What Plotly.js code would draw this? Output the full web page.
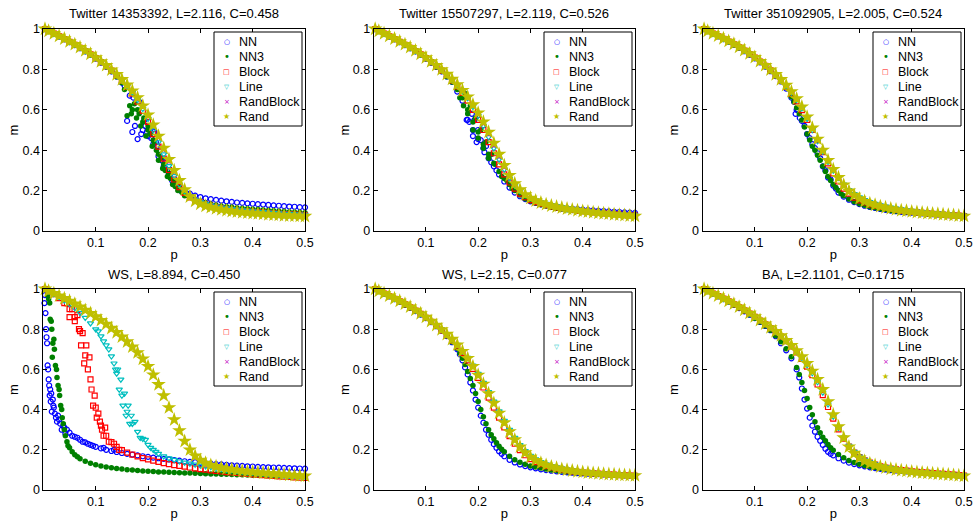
<!DOCTYPE html>
<html><head><meta charset="utf-8">
<script src="https://cdn.plot.ly/plotly-3.0.1.min.js"></script>
<style>html,body{margin:0;padding:0;background:#fff}#chart{width:976px;height:523px}</style>
</head><body><div id="chart"></div>
<script>
// ---------- shared axes / labels ----------
const P = [0.003,
 0.01,0.02,0.03,0.04,0.05,0.06,0.07,0.08,0.09,0.10,
 0.11,0.12,0.13,0.14,0.15,0.16,0.17,0.18,0.19,0.20,
 0.21,0.22,0.23,0.24,0.25,0.26,0.27,0.28,0.29,0.30,
 0.31,0.32,0.33,0.34,0.35,0.36,0.37,0.38,0.39,0.40,
 0.41,0.42,0.43,0.44,0.45,0.46,0.47,0.48,0.49,0.50];
const seriesNames = ['NN','NN3','Block','Line','RandBlock','Rand'];
const panelTitles = ['Twitter 14353392, L=2.116, C=0.458','Twitter 15507297, L=2.119, C=0.526','Twitter 351092905, L=2.005, C=0.524',
                     'WS, L=8.894, C=0.450','WS, L=2.15, C=0.077','BA, L=2.1101, C=0.1715'];
const xTickVals = [0.1,0.2,0.3,0.4,0.5];
const xTickText = ['0.1','0.2','0.3','0.4','0.5'];
const yTickVals = [0,0.2,0.4,0.6,0.8,1];
const yTickText = ['0','0.2','0.4','0.6','0.8','1'];
const xLabel = 'p', yLabel = 'm';

// ---------- Panel 1: Twitter 14353392 ----------
const t1_NN = [1.0, 0.99,0.977,0.963,0.95,0.935,0.92,0.905,0.889,0.872,0.854, 0.834,0.814,0.79,0.765,0.735,0.545,0.49,0.455,0.5,0.47, 0.43,0.37,0.32,0.28,0.235,0.21,0.195,0.185,0.175,0.168, 0.162,0.158,0.154,0.15,0.147,0.144,0.141,0.139,0.137,0.135, 0.133,0.131,0.129,0.127,0.125,0.123,0.121,0.12,0.118,0.117];
const t1_NN_xs = [0.155,0.165,0.172,0.175,0.183,0.187,0.193,0.195,0.198,0.203,0.206,0.212,0.215,0.218,0.222,0.226,0.232,0.236,0.242,0.246,0.252,0.256,0.262,0.268,0.275];
const t1_NN_ys = [0.72,0.67,0.66,0.52,0.64,0.48,0.55,0.52,0.49,0.5,0.46,0.49,0.44,0.42,0.4,0.35,0.34,0.3,0.27,0.25,0.24,0.22,0.2,0.19,0.18];
const t1_NN3 = [1.0, 0.99,0.977,0.963,0.95,0.935,0.92,0.905,0.889,0.872,0.854, 0.834,0.813,0.79,0.764,0.734,0.57,0.6,0.6,0.54,0.5, 0.45,0.38,0.33,0.285,0.245,0.215,0.19,0.17,0.155,0.145, 0.138,0.132,0.127,0.123,0.12,0.117,0.114,0.112,0.11,0.108, 0.106,0.104,0.102,0.1,0.098,0.096,0.094,0.093,0.092,0.09];
const t1_NN3_xs = [0.155,0.165,0.168,0.174,0.178,0.183,0.186,0.192,0.196,0.2,0.204,0.208,0.212,0.216,0.22,0.225,0.228,0.233,0.237,0.243,0.247,0.252,0.257,0.265,0.27];
const t1_NN3_ys = [0.7,0.62,0.58,0.63,0.56,0.58,0.52,0.56,0.47,0.52,0.48,0.42,0.44,0.4,0.35,0.36,0.31,0.3,0.27,0.26,0.23,0.22,0.2,0.19,0.175];
const t1_Block = [1.0, 0.99,0.977,0.964,0.95,0.936,0.922,0.907,0.891,0.874,0.856, 0.836,0.816,0.794,0.77,0.744,0.714,0.68,0.64,0.594,0.54, 0.48,0.418,0.358,0.302,0.255,0.217,0.188,0.166,0.151,0.14, 0.131,0.124,0.118,0.113,0.109,0.105,0.102,0.099,0.097,0.095, 0.093,0.091,0.089,0.087,0.085,0.084,0.083,0.081,0.08,0.079];
const t1_Line = [1.0, 0.99,0.977,0.964,0.951,0.937,0.923,0.908,0.892,0.875,0.857, 0.838,0.818,0.796,0.772,0.746,0.717,0.685,0.648,0.605,0.556, 0.5,0.44,0.38,0.322,0.272,0.23,0.197,0.173,0.156,0.144, 0.135,0.128,0.122,0.117,0.113,0.109,0.106,0.103,0.1,0.098, 0.096,0.094,0.092,0.09,0.088,0.086,0.085,0.083,0.082,0.081];
const t1_RandBlock = [1.0, 0.99,0.977,0.964,0.951,0.937,0.923,0.908,0.892,0.875,0.857, 0.838,0.818,0.796,0.773,0.748,0.72,0.69,0.655,0.614,0.568, 0.515,0.458,0.398,0.34,0.288,0.242,0.204,0.175,0.155,0.141, 0.131,0.123,0.117,0.112,0.108,0.104,0.101,0.098,0.095,0.093, 0.091,0.089,0.087,0.085,0.083,0.082,0.08,0.079,0.078,0.077];
const t1_Rand = [1.0, 0.99,0.978,0.965,0.952,0.938,0.924,0.909,0.893,0.876,0.858, 0.839,0.82,0.798,0.775,0.75,0.723,0.694,0.66,0.62,0.575, 0.525,0.47,0.41,0.355,0.3,0.25,0.205,0.17,0.148,0.134, 0.124,0.117,0.111,0.106,0.102,0.098,0.095,0.092,0.09,0.088, 0.086,0.084,0.082,0.08,0.079,0.077,0.076,0.075,0.074,0.073];

// ---------- Panel 2: Twitter 15507297 ----------
const t2_NN = [1.0, 0.99,0.977,0.963,0.95,0.935,0.92,0.905,0.889,0.872,0.854, 0.834,0.813,0.79,0.765,0.738,0.69,0.645,0.55,0.5,0.455, 0.41,0.36,0.32,0.28,0.245,0.215,0.19,0.172,0.158,0.147, 0.139,0.132,0.127,0.122,0.118,0.115,0.112,0.11,0.108,0.106, 0.104,0.102,0.1,0.099,0.097,0.095,0.094,0.092,0.091,0.09];
const t2_NN_xs = [0.178,0.183,0.188,0.19,0.193,0.197,0.2,0.205,0.212,0.215,0.225,0.235];
const t2_NN_ys = [0.55,0.54,0.58,0.47,0.55,0.44,0.5,0.45,0.39,0.42,0.34,0.3];
const t2_NN3 = [1.0, 0.99,0.977,0.963,0.949,0.934,0.919,0.904,0.888,0.871,0.853, 0.833,0.812,0.789,0.764,0.738,0.7,0.66,0.6,0.54,0.49, 0.43,0.38,0.335,0.295,0.26,0.23,0.2,0.178,0.16,0.148, 0.138,0.13,0.124,0.118,0.113,0.109,0.105,0.102,0.099,0.097, 0.095,0.093,0.091,0.089,0.087,0.085,0.084,0.083,0.081,0.08];
const t2_NN3_xs = [0.165,0.172,0.176,0.18,0.185,0.19,0.195,0.2,0.205,0.21,0.215,0.22,0.226,0.232,0.245,0.255,0.265];
const t2_NN3_ys = [0.66,0.62,0.68,0.58,0.62,0.5,0.56,0.46,0.5,0.41,0.44,0.36,0.38,0.33,0.27,0.25,0.21];
const t2_Block = [1.0, 0.99,0.977,0.963,0.95,0.936,0.922,0.907,0.891,0.874,0.856, 0.836,0.816,0.794,0.771,0.745,0.716,0.684,0.645,0.6,0.55, 0.5,0.44,0.385,0.33,0.28,0.24,0.21,0.185,0.167,0.153, 0.143,0.135,0.128,0.122,0.117,0.113,0.109,0.105,0.101,0.098, 0.095,0.092,0.089,0.087,0.085,0.083,0.081,0.079,0.077,0.076];
const t2_Line = [1.0, 0.99,0.977,0.964,0.951,0.937,0.923,0.908,0.892,0.875,0.857, 0.838,0.818,0.797,0.774,0.749,0.722,0.692,0.658,0.615,0.57, 0.52,0.465,0.41,0.355,0.305,0.26,0.225,0.198,0.178,0.163, 0.152,0.143,0.135,0.129,0.124,0.119,0.114,0.11,0.106,0.102, 0.099,0.096,0.093,0.09,0.088,0.086,0.084,0.082,0.08,0.078];
const t2_RandBlock = [1.0, 0.99,0.977,0.964,0.951,0.937,0.923,0.908,0.892,0.875,0.857, 0.838,0.818,0.797,0.774,0.749,0.722,0.692,0.658,0.618,0.575, 0.528,0.476,0.42,0.365,0.312,0.266,0.229,0.2,0.178,0.162, 0.15,0.141,0.133,0.127,0.122,0.117,0.112,0.108,0.104,0.1, 0.097,0.094,0.091,0.089,0.087,0.085,0.083,0.081,0.079,0.077];
const t2_Rand = [1.0, 0.99,0.978,0.965,0.952,0.938,0.924,0.909,0.893,0.876,0.858, 0.839,0.82,0.799,0.776,0.752,0.725,0.696,0.664,0.625,0.585, 0.54,0.49,0.435,0.38,0.325,0.275,0.235,0.205,0.18,0.163, 0.15,0.14,0.132,0.125,0.12,0.115,0.11,0.106,0.102,0.098, 0.095,0.092,0.089,0.087,0.085,0.082,0.08,0.078,0.076,0.074];

// ---------- Panel 3: Twitter 351092905 ----------
const t3_NN = [1.0, 0.99,0.977,0.964,0.95,0.936,0.921,0.906,0.89,0.873,0.855, 0.835,0.814,0.791,0.767,0.74,0.705,0.66,0.6,0.545,0.48, 0.43,0.385,0.32,0.265,0.225,0.19,0.17,0.155,0.143,0.133, 0.125,0.119,0.114,0.109,0.105,0.101,0.098,0.095,0.093,0.091, 0.089,0.087,0.085,0.083,0.082,0.08,0.079,0.078,0.076,0.075];
const t3_NN_xs = [0.175,0.178,0.182,0.186,0.195,0.205,0.215,0.225,0.235,0.245,0.255];
const t3_NN_ys = [0.64,0.58,0.6,0.56,0.52,0.46,0.41,0.36,0.3,0.255,0.21];
const t3_NN3 = [1.0, 0.99,0.977,0.964,0.95,0.936,0.921,0.906,0.89,0.873,0.855, 0.835,0.814,0.791,0.77,0.745,0.71,0.665,0.61,0.55,0.48, 0.42,0.375,0.32,0.27,0.23,0.2,0.175,0.158,0.145,0.135, 0.127,0.12,0.115,0.11,0.106,0.102,0.099,0.096,0.094,0.092, 0.09,0.088,0.086,0.084,0.083,0.081,0.08,0.078,0.077,0.075];
const t3_NN3_xs = [0.175,0.185,0.195,0.205,0.215,0.225,0.235,0.245,0.255,0.265];
const t3_NN3_ys = [0.64,0.58,0.515,0.45,0.4,0.35,0.295,0.25,0.215,0.185];
const t3_Block = [1.0, 0.99,0.977,0.964,0.951,0.938,0.924,0.909,0.893,0.876,0.858, 0.838,0.817,0.795,0.771,0.745,0.715,0.68,0.642,0.598,0.55, 0.5,0.45,0.39,0.335,0.285,0.245,0.21,0.185,0.165,0.152, 0.141,0.132,0.125,0.119,0.114,0.109,0.105,0.101,0.098,0.095, 0.092,0.09,0.087,0.085,0.083,0.081,0.079,0.077,0.076,0.074];
const t3_Line = [1.0, 0.99,0.977,0.965,0.952,0.939,0.925,0.91,0.894,0.877,0.859, 0.839,0.819,0.797,0.773,0.747,0.718,0.686,0.65,0.607,0.556, 0.5,0.445,0.392,0.343,0.3,0.263,0.23,0.203,0.183,0.167, 0.154,0.144,0.135,0.128,0.122,0.117,0.112,0.108,0.104,0.1, 0.097,0.094,0.091,0.089,0.087,0.085,0.083,0.081,0.079,0.077];
const t3_RandBlock = [1.0, 0.99,0.977,0.965,0.952,0.939,0.925,0.91,0.894,0.877,0.859, 0.839,0.819,0.797,0.773,0.747,0.718,0.686,0.65,0.608,0.558, 0.503,0.448,0.394,0.345,0.3,0.262,0.228,0.2,0.18,0.164, 0.151,0.141,0.133,0.126,0.12,0.115,0.11,0.106,0.102,0.099, 0.096,0.093,0.09,0.088,0.086,0.084,0.082,0.08,0.078,0.076];
const t3_Rand = [1.0, 0.99,0.978,0.966,0.953,0.94,0.926,0.911,0.895,0.878,0.86, 0.84,0.82,0.798,0.775,0.75,0.722,0.69,0.655,0.615,0.565, 0.51,0.455,0.4,0.35,0.305,0.265,0.228,0.198,0.177,0.16, 0.147,0.137,0.129,0.122,0.116,0.111,0.106,0.102,0.099,0.096, 0.093,0.09,0.088,0.086,0.084,0.082,0.08,0.078,0.076,0.074];

// ---------- Panel 4: WS, L=8.894 ----------
const w1_NN = [0.97, 0.55,0.41,0.35,0.31,0.285,0.265,0.25,0.237,0.225,0.215, 0.207,0.2,0.194,0.189,0.184,0.18,0.176,0.172,0.168,0.165, 0.161,0.158,0.155,0.152,0.149,0.146,0.143,0.14,0.138,0.135, 0.133,0.131,0.129,0.127,0.125,0.123,0.121,0.12,0.118,0.117, 0.115,0.114,0.113,0.112,0.111,0.11,0.109,0.108,0.107,0.106];
const w1_NN_xs = [0.002,0.004,0.005,0.006,0.007,0.008,0.009,0.011,0.012,0.013,0.014,0.015,0.016,0.018,0.019,0.022,0.024,0.026,0.028,0.032,0.035,0.038,0.042,0.045,0.055,0.065,0.075,0.085,0.095,0.115,0.135];
const w1_NN_ys = [0.93,0.88,0.8,0.76,0.73,0.62,0.6,0.52,0.47,0.5,0.44,0.48,0.39,0.45,0.42,0.38,0.36,0.34,0.37,0.33,0.3,0.32,0.28,0.3,0.27,0.26,0.24,0.23,0.22,0.21,0.2];
const w1_NN3 = [1.0, 0.95,0.75,0.5,0.3,0.21,0.175,0.155,0.143,0.133,0.126, 0.12,0.115,0.111,0.107,0.104,0.101,0.099,0.097,0.095,0.093, 0.092,0.09,0.089,0.088,0.087,0.086,0.085,0.084,0.083,0.082, 0.081,0.08,0.079,0.078,0.078,0.077,0.076,0.076,0.075,0.074, 0.074,0.073,0.073,0.072,0.071,0.071,0.07,0.07,0.069,0.069];
const w1_NN3_xs = [0.008,0.012,0.013,0.015,0.016,0.017,0.018,0.021,0.023,0.025,0.026,0.028,0.031,0.033,0.035,0.036,0.038,0.042,0.045,0.047,0.055,0.065];
const w1_NN3_ys = [0.97,0.93,0.85,0.84,0.8,0.66,0.73,0.7,0.62,0.6,0.56,0.52,0.47,0.42,0.4,0.36,0.33,0.27,0.24,0.22,0.19,0.165];
const w1_Block = [1.0, 0.99,0.975,0.955,0.93,0.9,0.86,0.79,0.67,0.55,0.41, 0.32,0.27,0.238,0.215,0.198,0.186,0.176,0.167,0.159,0.152, 0.146,0.14,0.134,0.129,0.124,0.12,0.116,0.112,0.108,0.104, 0.101,0.098,0.095,0.092,0.089,0.087,0.085,0.082,0.08,0.078, 0.076,0.074,0.072,0.07,0.068,0.066,0.065,0.063,0.062,0.06];
const w1_Block_xs = [0.045,0.05,0.055,0.06,0.065,0.068,0.072,0.075,0.078,0.082,0.085,0.088,0.092,0.095,0.098,0.102,0.105,0.108,0.112,0.115,0.118,0.125,0.135,0.145];
const w1_Block_ys = [0.93,0.86,0.9,0.84,0.87,0.8,0.72,0.78,0.63,0.72,0.6,0.66,0.5,0.42,0.47,0.36,0.38,0.34,0.3,0.27,0.31,0.24,0.23,0.2];
const w1_Line = [1.0, 0.99,0.975,0.96,0.943,0.925,0.905,0.882,0.857,0.83,0.8, 0.765,0.72,0.665,0.58,0.47,0.39,0.33,0.29,0.255,0.225, 0.2,0.18,0.168,0.158,0.15,0.143,0.137,0.132,0.127,0.122, 0.118,0.114,0.11,0.106,0.102,0.099,0.096,0.093,0.09,0.088, 0.085,0.083,0.081,0.079,0.077,0.075,0.073,0.071,0.069,0.067];
const w1_Line_xs = [0.105,0.115,0.125,0.135,0.138,0.142,0.145,0.148,0.152,0.155,0.158,0.162,0.165,0.168,0.175,0.185,0.195,0.205,0.215];
const w1_Line_ys = [0.79,0.74,0.7,0.63,0.6,0.6,0.5,0.55,0.42,0.48,0.37,0.42,0.33,0.37,0.34,0.26,0.25,0.21,0.19];
const w1_RandBlock = [1.0, 0.99,0.978,0.965,0.952,0.939,0.925,0.91,0.894,0.878,0.861, 0.843,0.824,0.804,0.783,0.761,0.737,0.711,0.683,0.651,0.614, 0.571,0.523,0.468,0.408,0.348,0.293,0.242,0.2,0.171,0.149, 0.135,0.125,0.118,0.112,0.107,0.103,0.099,0.096,0.093,0.091, 0.088,0.086,0.084,0.082,0.08,0.078,0.076,0.074,0.072,0.071];
const w1_Rand = [1.0, 0.99,0.978,0.966,0.953,0.94,0.926,0.911,0.895,0.879,0.862, 0.844,0.825,0.805,0.784,0.762,0.738,0.712,0.684,0.652,0.615, 0.573,0.525,0.47,0.41,0.35,0.295,0.243,0.2,0.17,0.148, 0.134,0.124,0.117,0.111,0.106,0.102,0.098,0.095,0.092,0.09, 0.087,0.085,0.083,0.081,0.079,0.077,0.075,0.073,0.071,0.07];

// ---------- Panel 5: WS, L=2.15 ----------
const w2_NN = [1.0, 0.99,0.977,0.964,0.95,0.936,0.921,0.906,0.89,0.873,0.855, 0.835,0.815,0.792,0.766,0.735,0.7,0.645,0.575,0.495,0.41, 0.335,0.275,0.228,0.193,0.168,0.15,0.137,0.127,0.119,0.113, 0.108,0.103,0.099,0.096,0.093,0.09,0.088,0.086,0.084,0.083, 0.081,0.08,0.079,0.078,0.077,0.076,0.075,0.074,0.073,0.072];
const w2_NN_xs = [0.165,0.175,0.185,0.195,0.205,0.215,0.225,0.235,0.245];
const w2_NN_ys = [0.675,0.61,0.535,0.45,0.37,0.3,0.25,0.21,0.18];
const w2_NN3 = [1.0, 0.99,0.977,0.964,0.95,0.936,0.921,0.906,0.89,0.873,0.855, 0.836,0.816,0.794,0.768,0.738,0.705,0.655,0.59,0.52,0.44, 0.365,0.3,0.255,0.218,0.19,0.168,0.151,0.138,0.128,0.12, 0.114,0.109,0.104,0.1,0.097,0.094,0.091,0.089,0.087,0.085, 0.083,0.082,0.081,0.079,0.078,0.077,0.076,0.075,0.074,0.073];
const w2_NN3_xs = [0.165,0.175,0.185,0.195,0.205,0.215,0.225,0.235,0.245];
const w2_NN3_ys = [0.682,0.625,0.555,0.48,0.4,0.33,0.275,0.235,0.203];
const w2_Block = [1.0, 0.99,0.977,0.964,0.951,0.938,0.924,0.909,0.893,0.876,0.857, 0.837,0.816,0.794,0.77,0.744,0.715,0.682,0.645,0.603,0.558, 0.51,0.46,0.41,0.36,0.312,0.268,0.23,0.198,0.173,0.154, 0.139,0.128,0.119,0.112,0.106,0.101,0.097,0.093,0.09,0.087, 0.085,0.083,0.081,0.079,0.077,0.076,0.074,0.073,0.072,0.071];
const w2_Line = [1.0, 0.99,0.977,0.965,0.952,0.939,0.925,0.91,0.894,0.877,0.859, 0.84,0.82,0.798,0.775,0.75,0.723,0.692,0.658,0.62,0.578, 0.534,0.488,0.44,0.392,0.345,0.3,0.26,0.224,0.194,0.171, 0.153,0.139,0.128,0.12,0.113,0.107,0.102,0.098,0.094,0.091, 0.088,0.086,0.084,0.082,0.08,0.078,0.077,0.075,0.074,0.073];
const w2_RandBlock = [1.0, 0.99,0.977,0.965,0.952,0.939,0.925,0.91,0.894,0.877,0.859, 0.839,0.819,0.797,0.774,0.749,0.721,0.689,0.653,0.613,0.57, 0.524,0.477,0.429,0.38,0.332,0.288,0.249,0.215,0.187,0.165, 0.148,0.135,0.125,0.117,0.111,0.105,0.101,0.097,0.093,0.09, 0.087,0.085,0.083,0.081,0.079,0.078,0.076,0.075,0.074,0.073];
const w2_Rand = [1.0, 0.99,0.978,0.966,0.953,0.94,0.926,0.911,0.895,0.878,0.86, 0.84,0.82,0.798,0.775,0.75,0.722,0.69,0.655,0.615,0.572, 0.527,0.48,0.432,0.383,0.335,0.29,0.25,0.215,0.186,0.164, 0.147,0.134,0.124,0.116,0.11,0.104,0.1,0.096,0.092,0.089, 0.086,0.084,0.082,0.08,0.078,0.077,0.075,0.074,0.073,0.072];

// ---------- Panel 6: BA ----------
const ba_NN = [1.0, 0.99,0.977,0.964,0.95,0.936,0.921,0.905,0.889,0.872,0.855, 0.836,0.816,0.795,0.765,0.73,0.695,0.655,0.6,0.505,0.405, 0.32,0.265,0.225,0.19,0.172,0.158,0.146,0.136,0.129,0.123, 0.118,0.113,0.109,0.105,0.102,0.099,0.097,0.095,0.093,0.091, 0.089,0.087,0.085,0.083,0.081,0.079,0.077,0.075,0.073,0.071];
const ba_NN_xs = [0.185,0.195,0.205,0.215,0.225,0.235,0.245];
const ba_NN_ys = [0.56,0.45,0.36,0.29,0.245,0.205,0.18];
const ba_NN3 = [1.0, 0.99,0.977,0.964,0.95,0.936,0.921,0.905,0.889,0.872,0.855, 0.836,0.816,0.795,0.768,0.738,0.703,0.663,0.61,0.535,0.455, 0.375,0.31,0.262,0.226,0.198,0.176,0.16,0.147,0.137,0.128, 0.122,0.117,0.112,0.108,0.104,0.101,0.098,0.096,0.094,0.092, 0.09,0.088,0.086,0.084,0.082,0.08,0.078,0.076,0.074,0.072];
const ba_NN3_xs = [0.185,0.195,0.205,0.215,0.225,0.235,0.245];
const ba_NN3_ys = [0.575,0.495,0.41,0.34,0.285,0.245,0.21];
const ba_Block = [1.0, 0.99,0.977,0.965,0.952,0.938,0.924,0.909,0.894,0.878,0.861, 0.843,0.824,0.805,0.785,0.763,0.74,0.714,0.685,0.652,0.614, 0.572,0.525,0.472,0.413,0.355,0.302,0.255,0.216,0.186,0.164, 0.148,0.136,0.126,0.118,0.112,0.107,0.103,0.099,0.096,0.093, 0.09,0.088,0.086,0.084,0.082,0.08,0.078,0.076,0.074,0.072];
const ba_Line = [1.0, 0.99,0.978,0.965,0.952,0.939,0.925,0.91,0.895,0.879,0.862, 0.844,0.826,0.807,0.787,0.766,0.743,0.718,0.69,0.658,0.622, 0.582,0.537,0.485,0.427,0.366,0.31,0.261,0.22,0.19,0.167, 0.151,0.138,0.128,0.12,0.114,0.109,0.104,0.1,0.097,0.094, 0.091,0.089,0.087,0.085,0.083,0.081,0.079,0.077,0.075,0.073];
const ba_RandBlock = [1.0, 0.99,0.978,0.965,0.952,0.939,0.925,0.91,0.895,0.879,0.862, 0.844,0.826,0.807,0.787,0.766,0.743,0.718,0.69,0.659,0.625, 0.586,0.543,0.493,0.433,0.37,0.312,0.26,0.217,0.186,0.163, 0.147,0.135,0.126,0.118,0.112,0.107,0.103,0.099,0.096,0.093, 0.09,0.088,0.086,0.084,0.082,0.08,0.078,0.076,0.074,0.072];
const ba_Rand = [1.0, 0.99,0.978,0.966,0.953,0.94,0.926,0.911,0.896,0.88,0.863, 0.845,0.827,0.808,0.789,0.768,0.745,0.72,0.693,0.663,0.63, 0.592,0.55,0.5,0.44,0.375,0.315,0.26,0.215,0.183,0.16, 0.144,0.132,0.123,0.116,0.11,0.105,0.101,0.097,0.094,0.091, 0.088,0.086,0.084,0.082,0.08,0.078,0.076,0.074,0.072,0.07];

// ---------- assemble ----------
const panelData = [
  {NN:[t1_NN,t1_NN_xs,t1_NN_ys], NN3:[t1_NN3,t1_NN3_xs,t1_NN3_ys], Block:[t1_Block], Line:[t1_Line], RandBlock:[t1_RandBlock], Rand:[t1_Rand]},
  {NN:[t2_NN,t2_NN_xs,t2_NN_ys], NN3:[t2_NN3,t2_NN3_xs,t2_NN3_ys], Block:[t2_Block], Line:[t2_Line], RandBlock:[t2_RandBlock], Rand:[t2_Rand]},
  {NN:[t3_NN,t3_NN_xs,t3_NN_ys], NN3:[t3_NN3,t3_NN3_xs,t3_NN3_ys], Block:[t3_Block], Line:[t3_Line], RandBlock:[t3_RandBlock], Rand:[t3_Rand]},
  {NN:[w1_NN,w1_NN_xs,w1_NN_ys], NN3:[w1_NN3,w1_NN3_xs,w1_NN3_ys], Block:[w1_Block,w1_Block_xs,w1_Block_ys], Line:[w1_Line,w1_Line_xs,w1_Line_ys], RandBlock:[w1_RandBlock], Rand:[w1_Rand]},
  {NN:[w2_NN,w2_NN_xs,w2_NN_ys], NN3:[w2_NN3,w2_NN3_xs,w2_NN3_ys], Block:[w2_Block], Line:[w2_Line], RandBlock:[w2_RandBlock], Rand:[w2_Rand]},
  {NN:[ba_NN,ba_NN_xs,ba_NN_ys], NN3:[ba_NN3,ba_NN3_xs,ba_NN3_ys], Block:[ba_Block], Line:[ba_Line], RandBlock:[ba_RandBlock], Rand:[ba_Rand]}
];

const colors = {NN:'#0000ff', NN3:'#008000', Block:'#ff0000', Line:'#00bfbf', RandBlock:'#bf00bf', Rand:'#bfbf00'};
const markers = {
  NN:{symbol:'circle-open', size:5, line:{width:1.2}},
  NN3:{symbol:'circle', size:5.5, line:{width:0}},
  Block:{symbol:'square-open', size:5, line:{width:1.2}},
  Line:{symbol:'triangle-down-open', size:5.5, line:{width:1.2}},
  RandBlock:{symbol:'x-thin-open', size:3.5, line:{width:1}},
  Rand:{symbol:'star', size:11, line:{width:0}}
};
const legendGlyph = {NN:'○', NN3:'•', Block:'□', Line:'▽', RandBlock:'×', Rand:'★'};
const legendGlyphSize = {NN:7, NN3:10, Block:7, Line:6.5, RandBlock:7, Rand:8};

const W = 976, H = 523;
const cols = [{l:43.4, r:305}, {l:373.6, r:635}, {l:702.5, r:964}];
const rows = [{t:29, b:231}, {t:289, b:490}];
const FONT = 'Liberation Sans, Arial, Helvetica, sans-serif';

const traces = [];
const layout = {
  width:W, height:H, margin:{l:0,r:0,t:0,b:0},
  paper_bgcolor:'#fff', plot_bgcolor:'#fff', showlegend:false,
  font:{family:FONT, size:12, color:'#000'},
  annotations:[], shapes:[]
};

panelData.forEach((pd, k) => {
  const c = cols[k % 3], r = rows[Math.floor(k / 3)];
  const sfx = k === 0 ? '' : String(k + 1);
  layout['xaxis' + sfx] = {
    domain:[c.l / W, c.r / W], anchor:'y' + sfx, range:[0, 0.5],
    tickmode:'array', tickvals:xTickVals, ticktext:xTickText,
    ticks:'inside', ticklen:4, tickcolor:'#000', tickwidth:1,
    showline:true, linecolor:'#000', linewidth:1, mirror:'allticks',
    showgrid:false, zeroline:false, tickfont:{size:12.5, family:FONT},
    title:{text:xLabel, font:{size:13, family:FONT}, standoff:0}
  };
  layout['yaxis' + sfx] = {
    domain:[1 - r.b / H, 1 - r.t / H], anchor:'x' + sfx, range:[0, 1],
    tickmode:'array', tickvals:yTickVals, ticktext:yTickText,
    ticks:'inside', ticklen:4, tickcolor:'#000', tickwidth:1,
    showline:true, linecolor:'#000', linewidth:1, mirror:'allticks',
    showgrid:false, zeroline:false, tickfont:{size:12.5, family:FONT},
    title:{text:yLabel, font:{size:13, family:FONT}, standoff:0}
  };
  seriesNames.forEach(name => {
    const d = pd[name];
    const xs = d[1] ? P.concat(d[1]) : P;
    const ys = d[1] ? d[0].concat(d[2]) : d[0];
    traces.push({
      type:'scatter', mode:'markers', name:name, x:xs, y:ys,
      xaxis:'x' + sfx, yaxis:'y' + sfx, cliponaxis:false, hoverinfo:'skip',
      marker:Object.assign({color:colors[name]}, markers[name], {line:Object.assign({color:colors[name]}, markers[name].line)})
    });
  });
  // panel title
  layout.annotations.push({text:panelTitles[k], xref:'paper', yref:'paper',
    x:(c.l + c.r) / 2 / W, y:1 - (r.t - 15) / H, xanchor:'center', yanchor:'middle',
    showarrow:false, font:{size:13, family:FONT, color:'#000'}});
  // legend box
  const bx0 = c.r - 91, bx1 = c.r - 3, by0 = r.t + 3, by1 = r.t + 97;
  layout.shapes.push({type:'rect', xref:'paper', yref:'paper',
    x0:bx0 / W, x1:bx1 / W, y0:1 - by1 / H, y1:1 - by0 / H,
    line:{color:'#000', width:1}, fillcolor:'#fff', layer:'above'});
  seriesNames.forEach((name, i) => {
    const cy = r.t + 12.7 + 15 * i;
    layout.annotations.push({text:legendGlyph[name], xref:'paper', yref:'paper',
      x:(bx0 + 12.7) / W, y:1 - cy / H, xanchor:'center', yanchor:'middle', showarrow:false,
      font:{size:legendGlyphSize[name], family:'DejaVu Sans', color:colors[name]}});
    layout.annotations.push({text:name, xref:'paper', yref:'paper',
      x:(bx0 + 23) / W, y:1 - cy / H, xanchor:'left', yanchor:'middle', showarrow:false,
      font:{size:12.5, family:FONT, color:'#000'}});
  });
});

Plotly.newPlot('chart', traces, layout, {staticPlot:true, displayModeBar:false});
</script>
</body></html>
